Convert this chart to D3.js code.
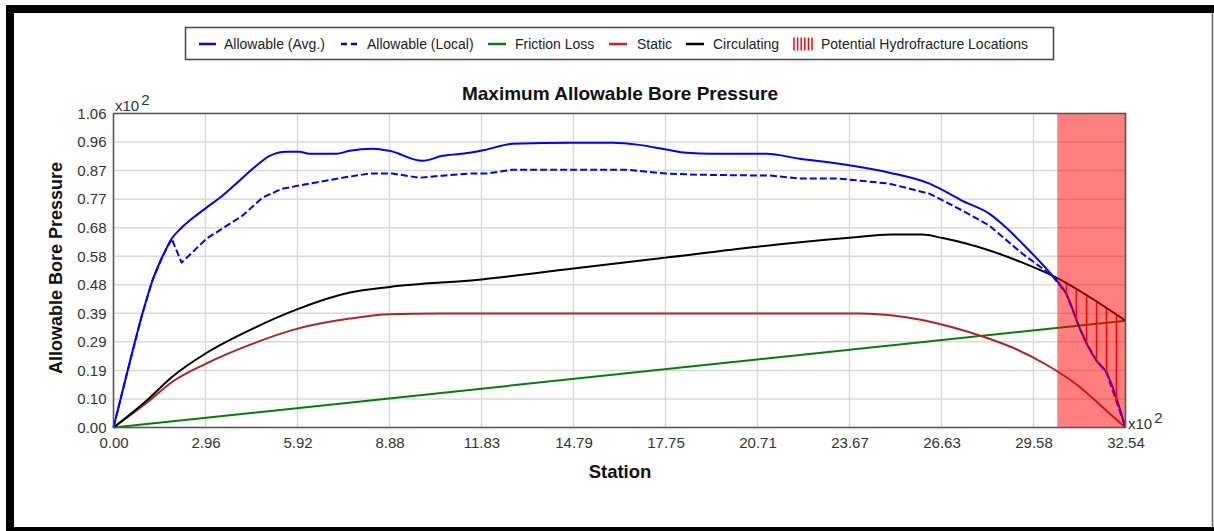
<!DOCTYPE html>
<html>
<head>
<meta charset="utf-8">
<script src="https://cdn.jsdelivr.net/npm/d3@7"></script>
<style>
  body { margin: 0; background: #fff; }
  svg { display: block; }
  text { font-family: "Liberation Sans", Arial, sans-serif; }
</style>
</head>
<body>
<svg id="chart" width="1214" height="531"></svg>
<script>
// Axis tick labels (values shown in hundreds: x10^2)
const xTickLabels = ["0.00", "2.96", "5.92", "8.88", "11.83", "14.79", "17.75", "20.71", "23.67", "26.63", "29.58", "32.54"];
const yTickLabels = ["0.00", "0.10", "0.19", "0.29", "0.39", "0.48", "0.58", "0.68", "0.77", "0.87", "0.96", "1.06"];
const xMax = 32.5425;
const yMax = 1.061;

// Series: [station (x10^2), pressure (x10^2)]
const allowableAvg = [
  [0, 0], [0.45, 0.19], [0.93, 0.385], [1.25, 0.496], [1.55, 0.572], [1.87, 0.638],
  [2.19, 0.675], [2.6, 0.712], [2.99, 0.743], [3.5, 0.783], [4.05, 0.834], [4.6, 0.885],
  [5.02, 0.918], [5.56, 0.932], [5.98, 0.932], [6.3, 0.925], [7.17, 0.925], [7.59, 0.935],
  [8.33, 0.942], [8.87, 0.935], [9.94, 0.901], [10.58, 0.918], [11.45, 0.928], [11.99, 0.939],
  [12.83, 0.959], [14.76, 0.962], [16.04, 0.962], [16.91, 0.955], [17.78, 0.939], [18.42, 0.928],
  [19.26, 0.925], [21.0, 0.925], [22.06, 0.908], [23.34, 0.891], [24.95, 0.861], [26.24, 0.824],
  [27.3, 0.766], [28.17, 0.722], [28.71, 0.675], [29.23, 0.621], [30.19, 0.513], [30.64, 0.452],
  [31.06, 0.338], [31.29, 0.284], [31.61, 0.226], [31.93, 0.186], [32.54, 0]
];
const allowableLocal = [
  [0, 0], [0.45, 0.19], [0.93, 0.385], [1.25, 0.496], [1.55, 0.572], [1.87, 0.638],
  [2.19, 0.557], [2.99, 0.638], [4.15, 0.716], [4.79, 0.777], [5.43, 0.807], [6.3, 0.824],
  [7.36, 0.844], [8.23, 0.858], [8.97, 0.858], [9.84, 0.844], [10.58, 0.851], [11.45, 0.858],
  [11.99, 0.858], [12.83, 0.871], [16.5, 0.871], [17.78, 0.858], [18.84, 0.854], [21.19, 0.851],
  [22.06, 0.841], [23.34, 0.841], [24.95, 0.824], [26.24, 0.79], [27.3, 0.733], [28.17, 0.682],
  [29.23, 0.587], [30.19, 0.513], [30.64, 0.452], [31.06, 0.338], [31.29, 0.284], [31.61, 0.226],
  [31.93, 0.186], [32.54, 0]
];
const frictionLoss = [[0, 0], [32.54, 0.361]];
const staticPressure = [
  [0, 0], [1.16, 0.091], [1.86, 0.152], [2.96, 0.215], [4.4, 0.28], [5.92, 0.334], [7.6, 0.368],
  [8.88, 0.383], [10.5, 0.385], [24.0, 0.385], [25.0, 0.379], [26.0, 0.363], [27.0, 0.338],
  [28.0, 0.306], [29.0, 0.266], [30.0, 0.212], [31.0, 0.143], [32.0, 0.05], [32.54, 0]
];
const circulating = [
  [0, 0], [1.16, 0.10], [1.86, 0.169], [2.96, 0.25], [4.4, 0.33], [5.92, 0.40], [7.6, 0.456],
  [8.88, 0.475], [11.83, 0.50], [14.79, 0.537], [17.75, 0.574], [20.71, 0.611], [23.67, 0.641],
  [25.0, 0.652], [26.0, 0.652], [26.66, 0.64], [28.17, 0.598], [29.23, 0.557], [30.19, 0.513],
  [32.54, 0.361]
];
// Zone where circulating pressure exceeds allowable pressure
const hydroZone = [30.35, 32.54];
const hydroStations = [30.64, 30.96, 31.29, 31.61, 31.93, 32.25];

const svg = d3.select("#chart");
const W = 1214, H = 531;
const plot = { left: 113.5, top: 113.5, right: 1125.5, bottom: 427.5 };

svg.append("rect").attr("width", W).attr("height", H).attr("fill", "#fff");

// Outer frame
svg.append("rect").attr("x", 6).attr("y", 5).attr("width", W - 6).attr("height", 8).attr("fill", "#000");
svg.append("rect").attr("x", 6).attr("y", 5).attr("width", 8).attr("height", H - 5).attr("fill", "#000");
svg.append("rect").attr("x", 6).attr("y", 527).attr("width", W - 6).attr("height", 4).attr("fill", "#000");
svg.append("line").attr("x1", 1212.5).attr("x2", 1212.5).attr("y1", 13).attr("y2", 527)
  .attr("stroke", "#666").attr("stroke-width", 1.5);

const x = d3.scaleLinear().domain([0, xMax]).range([plot.left, plot.right]);
const y = d3.scaleLinear().domain([0, yMax]).range([plot.bottom, plot.top]);
const xTicks = d3.range(xTickLabels.length).map(i => xMax * i / (xTickLabels.length - 1));
const yTicks = d3.range(yTickLabels.length).map(i => yMax * i / (yTickLabels.length - 1));

// Gridlines
const grid = svg.append("g").attr("stroke", "#d9d9d9").attr("stroke-width", 1.5);
grid.selectAll(".gx").data(xTicks).join("line")
  .attr("x1", d => x(d)).attr("x2", d => x(d)).attr("y1", plot.top).attr("y2", plot.bottom);
grid.selectAll(".gy").data(yTicks).join("line")
  .attr("y1", d => y(d)).attr("y2", d => y(d)).attr("x1", plot.left).attr("x2", plot.right);

// Axes labels
const xAxis = svg.append("g").attr("transform", `translate(0,${plot.bottom})`)
  .call(d3.axisBottom(x).tickValues(xTicks).tickFormat((d, i) => xTickLabels[i]).tickSize(0).tickPadding(10));
const yAxis = svg.append("g").attr("transform", `translate(${plot.left},0)`)
  .call(d3.axisLeft(y).tickValues(yTicks).tickFormat((d, i) => yTickLabels[i]).tickSize(0).tickPadding(7));
[xAxis, yAxis].forEach(a => {
  a.select(".domain").remove();
  a.selectAll("text").attr("font-size", 15).attr("fill", "#333")
    .attr("font-family", "'Liberation Sans', Arial, sans-serif");
});

// Series
const lineGen = d3.line().x(d => x(d[0])).y(d => y(d[1]));
const smoothGen = d3.line().x(d => x(d[0])).y(d => y(d[1])).curve(d3.curveMonotoneX);
const series = svg.append("g").attr("fill", "none").attr("stroke-width", 2).attr("stroke-linejoin", "round");
series.append("path").attr("d", lineGen(frictionLoss)).attr("stroke", "#008000");
series.append("path").attr("d", smoothGen(staticPressure)).attr("stroke", "#b22222");
series.append("path").attr("d", smoothGen(circulating)).attr("stroke", "#000");
series.append("path").attr("d", lineGen(allowableLocal)).attr("stroke", "#0000ff").attr("stroke-dasharray", "7,3");
series.append("path").attr("d", smoothGen(allowableAvg)).attr("stroke", "#0000ff");

// Hydrofracture zone (translucent band over the lines)
svg.append("rect")
  .attr("x", x(hydroZone[0])).attr("y", plot.top)
  .attr("width", plot.right - x(hydroZone[0])).attr("height", plot.bottom - plot.top)
  .attr("fill", "rgba(255,0,0,0.5)");

function interp(data, v) {
  const i = d3.bisector(d => d[0]).right(data, v);
  const a = data[Math.max(0, i - 1)], b = data[Math.min(data.length - 1, i)];
  if (b[0] === a[0]) return a[1];
  return a[1] + (b[1] - a[1]) * (v - a[0]) / (b[0] - a[0]);
}
svg.append("g").attr("stroke", "#ff0000").attr("stroke-width", 1.5)
  .selectAll("line").data(hydroStations).join("line")
  .attr("x1", d => x(d)).attr("x2", d => x(d))
  .attr("y1", d => y(interp(circulating, d))).attr("y2", d => y(interp(allowableAvg, d)));

// Plot frame
svg.append("rect").attr("x", plot.left).attr("y", plot.top)
  .attr("width", plot.right - plot.left).attr("height", plot.bottom - plot.top)
  .attr("fill", "none").attr("stroke", "#555").attr("stroke-width", 1.5);

// Multipliers
function multiplier(px, py) {
  const t = svg.append("text").attr("x", px).attr("y", py).attr("font-size", 15).attr("fill", "#333");
  t.append("tspan").text("x10");
  t.append("tspan").attr("dx", 2).attr("dy", -6).text("2");
}
multiplier(115, 111);
multiplier(1128, 429);

// Titles
svg.append("text").attr("x", 620).attr("y", 100).attr("text-anchor", "middle")
  .attr("font-size", 19).attr("font-weight", "bold").attr("fill", "#111")
  .text("Maximum Allowable Bore Pressure");
svg.append("text").attr("x", 620).attr("y", 478).attr("text-anchor", "middle")
  .attr("font-size", 18.5).attr("font-weight", "bold").attr("fill", "#111")
  .text("Station");
svg.append("text").attr("transform", "translate(62,268) rotate(-90)").attr("text-anchor", "middle")
  .attr("font-size", 18).attr("font-weight", "bold").attr("fill", "#111")
  .text("Allowable Bore Pressure");

// Legend
const legend = svg.append("g");
legend.append("rect").attr("x", 185.5).attr("y", 27.5).attr("width", 868).attr("height", 32)
  .attr("fill", "#fff").attr("stroke", "#444").attr("stroke-width", 1.5);
const legendItems = [
  { label: "Allowable (Avg.)", color: "#0000ff", dash: null, x0: 199, x1: 216, tx: 224 },
  { label: "Allowable (Local)", color: "#0000ff", dash: "6,4", x0: 341, x1: 359, tx: 367 },
  { label: "Friction Loss", color: "#008000", dash: null, x0: 488, x1: 506, tx: 515 },
  { label: "Static", color: "#d42020", dash: null, x0: 609, x1: 627, tx: 637 },
  { label: "Circulating", color: "#000", dash: null, x0: 686, x1: 704, tx: 713 },
  { label: "Potential Hydrofracture Locations", color: "#ff0000", hatch: true, x0: 793, x1: 813, tx: 821 }
];
legendItems.forEach(it => {
  if (it.hatch) {
    const g = legend.append("g").attr("stroke", it.color).attr("stroke-width", 1.5);
    d3.range(6).forEach(k => {
      const lx = it.x0 + 1 + k * 3.6;
      g.append("line").attr("x1", lx).attr("x2", lx).attr("y1", 37.5).attr("y2", 50.5);
    });
  } else {
    legend.append("line").attr("x1", it.x0).attr("x2", it.x1).attr("y1", 44).attr("y2", 44)
      .attr("stroke", it.color).attr("stroke-width", 2.5).attr("stroke-dasharray", it.dash);
  }
  legend.append("text").attr("x", it.tx).attr("y", 49).attr("font-size", 14).attr("fill", "#222")
    .text(it.label);
});
</script>
</body>
</html>
